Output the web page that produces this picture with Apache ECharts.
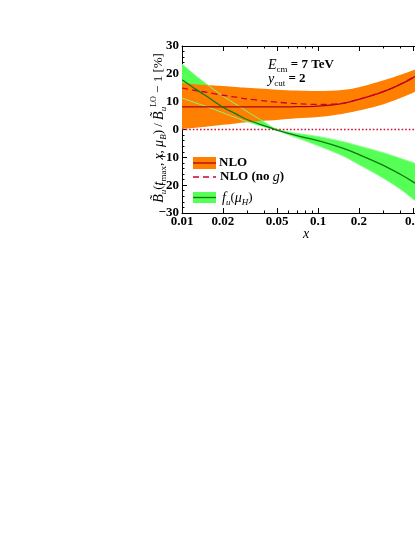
<!DOCTYPE html>
<html>
<head>
<meta charset="utf-8">
<script src="https://cdn.jsdelivr.net/npm/echarts@6/dist/echarts.min.js"></script>
<style>
html,body{margin:0;padding:0;background:#fff;}
#chart{width:415px;height:537px;}
</style>
</head>
<body>
<div id="chart"></div>
<script>
// ---- data ----
const xVals      = [0.01, 0.0125, 0.015, 0.02, 0.025, 0.03, 0.04, 0.05, 0.07, 0.1, 0.15, 0.2, 0.3, 0.4, 0.5, 0.55];
const nloUpper   = [16.7, 16.3, 16.0, 15.6, 15.3, 15.0, 14.6, 14.3, 14.0, 13.8, 14.2, 15.2, 17.6, 19.6, 21.3, 22.2];
const nloLower   = [0.2, 0.6, 1.0, 1.7, 2.2, 2.6, 3.1, 3.4, 4.0, 4.5, 5.6, 6.8, 9.0, 11.2, 13.2, 14.2];
const nloCentral = [8.1, 8.1, 8.1, 8.1, 8.1, 8.1, 8.1, 8.1, 8.2, 8.4, 9.3, 10.8, 13.5, 16.1, 18.6, 19.9];
const nloNoG     = [14.9, 14.0, 13.4, 12.3, 11.6, 11.0, 10.3, 9.8, 9.3, 9.0, 9.4, 10.9, 13.6, 16.2, 18.7, 20.0];
const fuCentral  = [17.9, 14.6, 12.1, 8.0, 5.6, 3.6, 1.4, -0.2, -2.2, -4.0, -6.6, -9.0, -12.8, -16.0, -18.8, -20.2];
const fuUpper    = [23.5, 19.5, 16.5, 12.0, 9.0, 6.5, 2.8, 0.1, -1.4, -2.5, -4.3, -5.9, -8.3, -10.3, -11.9, -12.8];
const fuLower    = [11.3, 9.6, 8.3, 6.0, 4.2, 2.8, 1.0, -0.4, -3.0, -5.8, -9.3, -12.6, -17.4, -21.3, -25.0, -26.8];
const zeroLine   = [0, 0];
const zeroLineX  = [0.01, 0.6];

const xMax        = 0.52;   // visible right end of the x axis
const xMajorTicks = [0.01, 0.02, 0.05, 0.1, 0.2, 0.5];
const xTickLabels = ['0.01', '0.02', '0.05', '0.1', '0.2', '0.5'];
const xMinorTicks = [0.03, 0.04, 0.06, 0.07, 0.08, 0.09, 0.3, 0.4];

// ---- helpers ----
const L = v => Math.log10(v);
const FONT = 'Liberation Serif';
const DECADE = 136;

const chart = echarts.init(document.getElementById('chart'), null, {renderer: 'canvas'});

function spline(p) {
  // Catmull-Rom through pixel points -> cubic bezier commands (starting after p[0])
  let d = '';
  for (let i = 0; i < p.length - 1; i++) {
    const p0 = p[Math.max(0, i - 1)], p1 = p[i], p2 = p[i + 1], p3 = p[Math.min(p.length - 1, i + 2)];
    const c1 = [p1[0] + (p2[0] - p0[0]) / 6, p1[1] + (p2[1] - p0[1]) / 6];
    const c2 = [p2[0] - (p3[0] - p1[0]) / 6, p2[1] - (p3[1] - p1[1]) / 6];
    d += ' C' + c1[0] + ' ' + c1[1] + ' ' + c2[0] + ' ' + c2[1] + ' ' + p2[0] + ' ' + p2[1];
  }
  return d;
}

function bandSeries(name, upper, lower, color, z) {
  return {
    name, type: 'custom', coordinateSystem: 'cartesian2d', xAxisIndex: 0, yAxisIndex: 0, z, silent: true, clip: true,
    data: [[L(xVals[0]), upper[0]]],
    renderItem: (params, api) => {
      const up = xVals.map((x, i) => api.coord([L(x), upper[i]]));
      const lo = xVals.map((x, i) => api.coord([L(x), lower[i]])).reverse();
      const d = 'M' + up[0][0] + ' ' + up[0][1] + spline(up) + ' L' + lo[0][0] + ' ' + lo[0][1] + spline(lo) + ' Z';
      return {type: 'path', shape: {pathData: d}, style: {fill: color, stroke: null}};
    }
  };
}
function curveSeries(name, arr, color, width, z, dash) {
  return {
    name, type: 'custom', coordinateSystem: 'cartesian2d', xAxisIndex: 0, yAxisIndex: 0, z, silent: true, clip: true,
    data: [[L(xVals[0]), arr[0]]],
    renderItem: (params, api) => {
      const p = xVals.map((x, i) => api.coord([L(x), arr[i]]));
      const d = 'M' + p[0][0] + ' ' + p[0][1] + spline(p);
      return {type: 'path', shape: {pathData: d},
              style: {fill: null, stroke: color, lineWidth: width, lineDash: dash || null}};
    }
  };
}

function xAxisDef(pos, ticks, len, showLine, showLabel) {
  return {
    type: 'value', min: -2, max: L(xMax), position: pos, gridIndex: 0,
    axisLine: {show: showLine, onZero: false, lineStyle: {color: '#000', width: 1}},
    axisTick: {show: true, inside: true, length: len, customValues: ticks.map(L), lineStyle: {color: '#000', width: 1}},
    axisLabel: {
      show: showLabel, customValues: xMajorTicks.map(L), margin: 2, showMaxLabel: true,
      color: '#000', fontFamily: FONT, fontSize: 13, fontWeight: 'bold', hideOverlap: false,
      formatter: v => {
        let bi = 0, bd = 1e9;
        xMajorTicks.forEach((t, i) => { const dd = Math.abs(L(t) - v); if (dd < bd) { bd = dd; bi = i; } });
        return xTickLabels[bi];
      }
    },
    splitLine: {show: false}
  };
}

const rich = {
  n:   {fontFamily: FONT, fontSize: 13, lineHeight: 18, color: '#000', verticalAlign: 'middle'},
  b:   {fontFamily: FONT, fontSize: 13, lineHeight: 18, color: '#000', fontWeight: 'bold', verticalAlign: 'middle'},
  it:  {fontFamily: FONT, fontSize: 14, lineHeight: 18, color: '#000', fontStyle: 'italic', verticalAlign: 'middle'},
  sub: {fontFamily: FONT, fontSize: 9, lineHeight: 10, color: '#000', verticalAlign: 'bottom'},
  isub:{fontFamily: FONT, fontSize: 9, lineHeight: 10, color: '#000', fontStyle: 'italic', verticalAlign: 'bottom'},
  sup: {fontFamily: FONT, fontSize: 8, lineHeight: 10, color: '#000', verticalAlign: 'top'}
};

const gridLeft = 182;
const option = {
  animation: false,
  backgroundColor: '#fff',
  grid: {left: gridLeft, top: 46, width: (L(xMax) + 2) * DECADE, height: 167, outerBoundsMode: 'none', containLabel: false},
  xAxis: [
    xAxisDef('bottom', xMajorTicks, 5, true, true),
    xAxisDef('bottom', xMinorTicks, 2.5, false, false),
    xAxisDef('top', xMajorTicks, 5, true, false),
    xAxisDef('top', xMinorTicks, 2.5, false, false)
  ],
  yAxis: {
    type: 'value', min: -30, max: 30, interval: 10,
    axisLine: {show: true, onZero: false, lineStyle: {color: '#000', width: 1}},
    axisTick: {show: true, inside: true, length: 5, lineStyle: {color: '#000'}},
    minorTick: {show: true, splitNumber: 5, length: 2.5, lineStyle: {color: '#000'}},
    axisLabel: {margin: 3, color: '#000', fontFamily: FONT, fontSize: 13, fontWeight: 'bold',
      formatter: v => v < 0 ? '\u2212' + Math.abs(v) : String(v)},
    splitLine: {show: false}, minorSplitLine: {show: false}
  },
  series: [
    bandSeries('fu band', fuUpper, fuLower, '#55ff55', 1),
    bandSeries('NLO band', nloUpper, nloLower, '#ff8000', 2),
    curveSeries('fu upper', fuUpper, '#80ff80', 0.9, 3),
    curveSeries('fu lower', fuLower, '#80ff80', 0.9, 3),
    {name: 'zero', type: 'line', data: zeroLineX.map((x, i) => [L(x), zeroLine[i]]), symbol: 'none', z: 3,
     lineStyle: {color: '#d0103a', width: 1.6, type: [1.6, 2.0]}, silent: true},
    curveSeries('NLO', nloCentral, '#b0001c', 1.3, 4),
    curveSeries('NLO (no g)', nloNoG, '#cc0033', 1.3, 4, [6, 4]),
    curveSeries('f_u(mu_H)', fuCentral, '#0b7a0b', 1.3, 5)
  ],
  graphic: [
    {type: 'text', x: 159, y: 128, rotation: Math.PI / 2, z: 10,
     style: {text: '{it|B\u0303}{isub|u}{n|(}{it|t}{sub|max}{n|, }{it|x}{n|, }{it|\u03bc}{isub|B}{n|) / }{it|B\u0303}{isub|u}{sup|LO}{n| \u2212 1 [%]}',
             rich, align: 'center', verticalAlign: 'middle'}},
    {type: 'text', x: 268, y: 65, z: 10,
     style: {text: '{it|E}{sub|cm}{b| = 7 TeV}', rich, align: 'left', verticalAlign: 'middle'}},
    {type: 'text', x: 268, y: 79, z: 10,
     style: {text: '{it|y}{sub|cut}{b| = 2}', rich, align: 'left', verticalAlign: 'middle'}},
    {type: 'text', x: 306, y: 234, z: 10,
     style: {text: '{it|x}', rich, align: 'center', verticalAlign: 'middle'}},
    // legend
    {type: 'rect', shape: {x: 193, y: 157, width: 23, height: 12}, style: {fill: '#ff8000'}, z: 10},
    {type: 'line', shape: {x1: 193, y1: 163, x2: 216, y2: 163}, style: {stroke: '#b0001c', lineWidth: 1.3}, z: 11},
    {type: 'text', x: 219, y: 163, z: 10, style: {text: '{b|NLO}', rich, align: 'left', verticalAlign: 'middle'}},
    {type: 'line', shape: {x1: 193, y1: 177, x2: 216, y2: 177}, style: {stroke: '#cc0033', lineWidth: 1.3, lineDash: [6, 4]}, z: 11},
    {type: 'text', x: 220, y: 177, z: 10, style: {text: '{b|NLO (no }{it|g}{b|)}', rich, align: 'left', verticalAlign: 'middle'}},
    {type: 'rect', shape: {x: 193, y: 192, width: 23, height: 11}, style: {fill: '#55ff55'}, z: 10},
    {type: 'line', shape: {x1: 193, y1: 197.5, x2: 216, y2: 197.5}, style: {stroke: '#0b7a0b', lineWidth: 1.3}, z: 11},
    {type: 'text', x: 222, y: 198, z: 10, style: {text: '{it|f}{isub|u}{n|(}{it|\u03bc}{isub|H}{n|)}', rich, align: 'left', verticalAlign: 'middle'}}
  ]
};
chart.setOption(option);
</script>
</body>
</html>
